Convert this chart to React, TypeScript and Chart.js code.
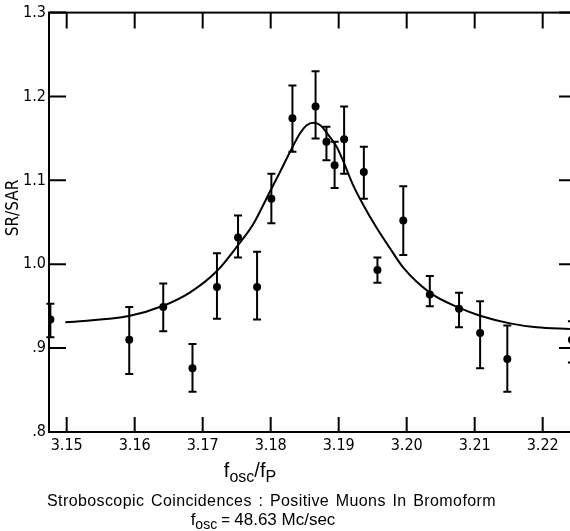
import React, { useEffect, useRef } from "react";
import { Chart, registerables } from "chart.js";

Chart.register(...registerables);

// Measured data points (f_osc/f_P, SR/SAR) with error bar limits
const pointX = [3.1476, 3.1592, 3.1642, 3.1685, 3.1721, 3.1752, 3.178, 3.1801, 3.1832, 3.1866, 3.1882, 3.1894, 3.1908, 3.1937, 3.1957, 3.1995, 3.2034, 3.2077, 3.2108, 3.2148, 3.2243];
const pointY = [0.934, 0.91, 0.949, 0.876, 0.973, 1.032, 0.973, 1.078, 1.174, 1.188, 1.146, 1.118, 1.149, 1.11, 0.993, 1.052, 0.964, 0.947, 0.918, 0.887, 0.91];
const errLow = [0.913, 0.869, 0.92, 0.848, 0.935, 1.008, 0.934, 1.049, 1.134, 1.15, 1.124, 1.091, 1.108, 1.078, 0.978, 1.011, 0.95, 0.925, 0.876, 0.848, 0.883];
const errHigh = [0.953, 0.949, 0.977, 0.905, 1.013, 1.058, 1.015, 1.108, 1.213, 1.23, 1.164, 1.146, 1.188, 1.14, 1.008, 1.093, 0.986, 0.966, 0.956, 0.927, 0.932];

// Fitted resonance curve
const curveX = [3.1498, 3.1593, 3.1642, 3.1681, 3.1721, 3.1752, 3.1774, 3.1799, 3.1814, 3.1831, 3.1843, 3.1853, 3.1863, 3.1873, 3.1885, 3.1897, 3.1907, 3.1921, 3.1936, 3.1956, 3.1975, 3.1995, 3.2034, 3.2076, 3.2108, 3.2152, 3.2191, 3.224];
const curveY = [0.9307, 0.9386, 0.9505, 0.9662, 0.9919, 1.0227, 1.0473, 1.0867, 1.1104, 1.138, 1.1558, 1.1658, 1.1688, 1.1658, 1.1539, 1.14, 1.1223, 1.0947, 1.071, 1.0432, 1.0196, 0.9959, 0.9662, 0.9485, 0.9386, 0.9295, 0.9248, 0.9229];

const xTickValues = [3.15, 3.16, 3.17, 3.18, 3.19, 3.2, 3.21, 3.22];
const xTickLabels = ["3.15", "3.16", "3.17", "3.18", "3.19", "3.20", "3.21", "3.22"];
const yTickValues = [0.8, 0.9, 1.0, 1.1, 1.2, 1.3];
const yTickLabels = [".8", ".9", "1.0", "1.1", "1.2", "1.3"];

const X_MIN = 3.1474;
const X_MAX = 3.2249;
const Y_MIN = 0.8;
const Y_MAX = 1.3;

const NARROW = "'Liberation Sans Narrow', 'DejaVu Sans Condensed', 'Liberation Sans', sans-serif";
const SANS = "'Liberation Sans', Arial, sans-serif";

const framePlugin = {
  id: "frameTicksErrors",
  afterDatasetsDraw(chart: any) {
    const { ctx, chartArea: a, scales } = chart;
    const xs = scales.x;
    const ys = scales.y;
    ctx.save();
    ctx.strokeStyle = "#000";
    ctx.lineWidth = 2;
    ctx.lineCap = "butt";
    ctx.strokeRect(a.left, a.top, a.right - a.left, a.bottom - a.top);
    ctx.beginPath();
    xTickValues.forEach((v) => {
      const px = xs.getPixelForValue(v);
      ctx.moveTo(px, a.top);
      ctx.lineTo(px, a.top + 16);
      ctx.moveTo(px, a.bottom);
      ctx.lineTo(px, a.bottom - 15);
    });
    yTickValues.forEach((v) => {
      const py = ys.getPixelForValue(v);
      ctx.moveTo(a.left, py);
      ctx.lineTo(a.left + 17, py);
      ctx.moveTo(a.right, py);
      ctx.lineTo(a.right - 17, py);
    });
    ctx.stroke();
    ctx.beginPath();
    pointX.forEach((x, i) => {
      const px = xs.getPixelForValue(x);
      const lo = ys.getPixelForValue(errLow[i]);
      const hi = ys.getPixelForValue(errHigh[i]);
      ctx.moveTo(px, lo);
      ctx.lineTo(px, hi);
      ctx.moveTo(px - 4, lo);
      ctx.lineTo(px + 4, lo);
      ctx.moveTo(px - 4, hi);
      ctx.lineTo(px + 4, hi);
    });
    ctx.stroke();
    ctx.restore();
  },
};

export default function App() {
  const canvasRef = useRef<HTMLCanvasElement | null>(null);

  useEffect(() => {
    const canvas = canvasRef.current;
    if (!canvas) return;
    const chart = new Chart(canvas, {
      type: "scatter",
      data: {
        datasets: [
          {
            label: "fit",
            data: curveX.map((x, i) => ({ x, y: curveY[i] })),
            showLine: true,
            borderColor: "#000",
            borderWidth: 2,
            pointRadius: 0,
            cubicInterpolationMode: "monotone",
            fill: false,
          } as any,
          {
            label: "data",
            data: pointX.map((x, i) => ({ x, y: pointY[i] })),
            showLine: false,
            pointRadius: 4,
            pointBackgroundColor: "#000",
            pointBorderWidth: 0,
            backgroundColor: "#000",
          } as any,
        ],
      },
      options: {
        responsive: false,
        maintainAspectRatio: false,
        animation: false,
        layout: { padding: { top: 9.5, right: 24, left: 0, bottom: 0 } },
        plugins: { legend: { display: false }, tooltip: { enabled: false } },
        scales: {
          x: {
            type: "linear",
            min: X_MIN,
            max: X_MAX,
            afterBuildTicks: (s: any) => {
              s.ticks = xTickValues.map((v) => ({ value: v }));
            },
            afterFit: (s: any) => {
              s.height = 99;
            },
            ticks: {
              autoSkip: false,
              maxRotation: 0,
              padding: 4,
              color: "#000",
              font: { family: NARROW, size: 16 },
              callback: (_v: any, i: number) => xTickLabels[i],
            },
            grid: { display: false, drawTicks: false },
            border: { display: false },
          },
          y: {
            type: "linear",
            min: Y_MIN,
            max: Y_MAX,
            afterBuildTicks: (s: any) => {
              s.ticks = yTickValues.map((v) => ({ value: v }));
            },
            afterFit: (s: any) => {
              s.width = 49;
            },
            ticks: {
              autoSkip: false,
              padding: 3,
              color: "#000",
              font: { family: NARROW, size: 16 },
              callback: (_v: any, i: number) => yTickLabels[i],
            },
            grid: { display: false, drawTicks: false },
            border: { display: false },
          },
        },
      },
      plugins: [framePlugin],
    });
    return () => chart.destroy();
  }, []);

  return (
    <div
      style={{
        position: "fixed",
        left: 0,
        top: 0,
        width: 570,
        height: 531,
        overflow: "hidden",
        background: "#fff",
        color: "#000",
      }}
    >
      <canvas ref={canvasRef} width={600} height={531} style={{ display: "block", width: 600, height: 531 }} />
      <div
        style={{
          position: "absolute",
          left: -38,
          top: 198,
          width: 100,
          height: 20,
          lineHeight: "20px",
          textAlign: "center",
          fontFamily: NARROW,
          fontSize: 17,
          transform: "rotate(-90deg)",
          whiteSpace: "nowrap",
        }}
      >
        SR/SAR
      </div>
      <div
        style={{
          position: "absolute",
          left: 150,
          top: 460,
          width: 200,
          height: 20,
          lineHeight: "20px",
          textAlign: "center",
          fontFamily: SANS,
          fontSize: 20,
          whiteSpace: "nowrap",
        }}
      >
        f<span style={{ fontSize: 16, position: "relative", top: 5 }}>osc</span>/f
        <span style={{ fontSize: 16, position: "relative", top: 5 }}>P</span>
      </div>
      <div
        style={{
          position: "absolute",
          left: 0,
          top: 490.5,
          width: 543,
          height: 20,
          lineHeight: "20px",
          textAlign: "center",
          fontFamily: SANS,
          fontSize: 16,
          letterSpacing: 0.4,
          wordSpacing: 1.8,
          whiteSpace: "nowrap",
        }}
      >
        Stroboscopic Coincidences : Positive Muons In Bromoform
      </div>
      <div
        style={{
          position: "absolute",
          left: 163,
          top: 510,
          width: 200,
          height: 20,
          lineHeight: "20px",
          textAlign: "center",
          fontFamily: SANS,
          fontSize: 17,
          whiteSpace: "nowrap",
        }}
      >
        f<span style={{ fontSize: 14, position: "relative", top: 4 }}>osc</span>
        <span style={{ fontSize: 15 }}> = </span>48.63 Mc/sec
      </div>
    </div>
  );
}
